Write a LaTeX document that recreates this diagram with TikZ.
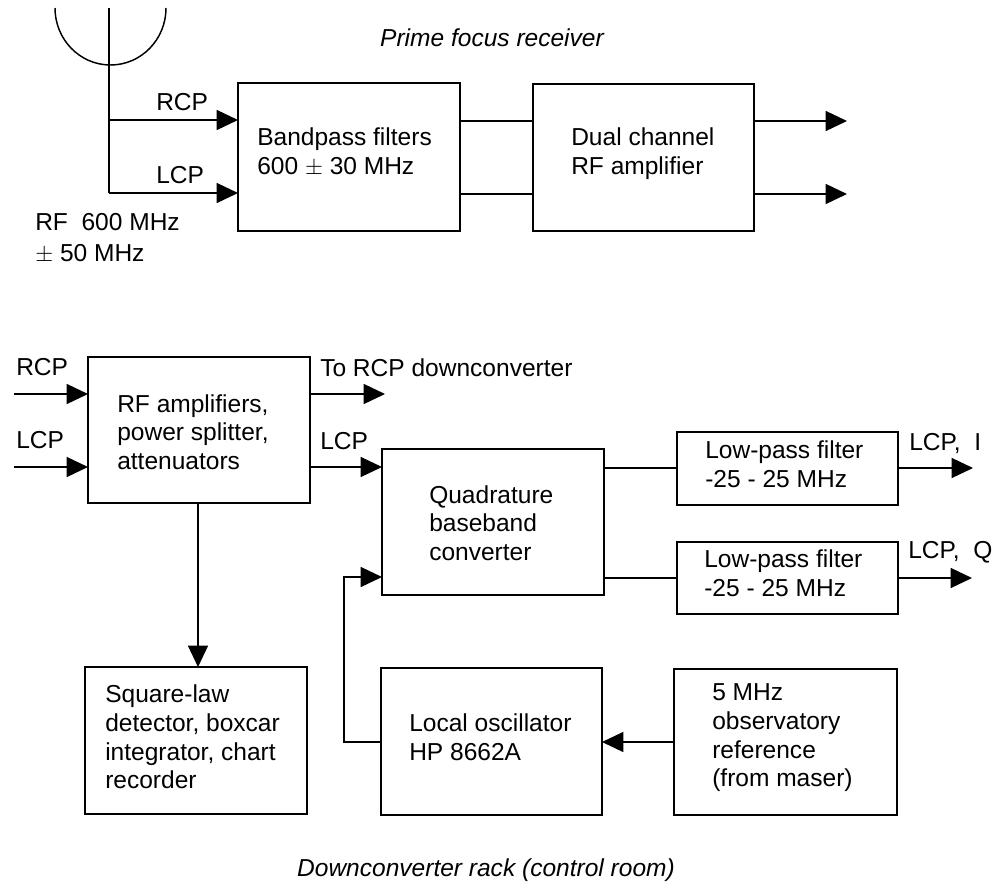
\documentclass[tikz,border=0pt]{standalone}
\usepackage{fontspec}
\setmainfont{Liberation Sans}
\usetikzlibrary{arrows.meta}
\tikzset{
 x=0.75pt,y=-0.75pt,
 blk/.style 2 args={draw,line width=1.1pt,inner sep=0pt,outer sep=0pt,anchor=north west,minimum width=#1*0.75pt,minimum height=#2*0.75pt},
 conn/.style={line width=1.1pt},
 arr/.style={line width=1.1pt,-{Triangle[length=16pt,width=15pt]}},
 txt/.style={font=\fontsize{18.4}{21.5}\selectfont,align=left,inner sep=0pt,anchor=west},
 captxt/.style={font=\itshape\fontsize{18.4}{21}\selectfont,inner sep=0pt}
}
\begin{document}
\begin{tikzpicture}
\useasboundingbox (0,0) rectangle (1000,885);
% boxes
\node[blk={222}{148}] (bp) at (238,83) {};
\node[blk={221}{147}] (rf) at (533,84) {};
\node[blk={222}{146}] (amp) at (88,357) {};
\node[blk={222}{146}] (qb) at (382,449) {};
\node[blk={221}{73}] (lp1) at (677,432) {};
\node[blk={221}{72}] (lp2) at (677,542) {};
\node[blk={222}{147}] (sq) at (85,667) {};
\node[blk={221}{147}] (lo) at (381,668) {};
\node[blk={223}{146}] (ref) at (674,669) {};
% box text
\node[txt] (t1) at (257,152) {Bandpass filters\\600 $\pm$ 30 MHz};
\node[txt] (t2) at (571,153.5) {Dual channel\\RF amplifier};
\node[txt] (t3) at (117,432) {RF amplifiers,\\power splitter,\\attenuators};
\node[txt] (t4) at (429,523) {Quadrature\\baseband\\converter};
\node[txt] (t5) at (705,464) {Low-pass filter\\-25 - 25 MHz};
\node[txt] (t6) at (704,573) {Low-pass filter\\-25 - 25 MHz};
\node[txt] (t7) at (105,737) {Square-law\\detector, boxcar\\integrator, chart\\recorder};
\node[txt] (t8) at (409,737) {Local oscillator\\HP 8662A};
\node[txt] (t9) at (712,738) {5 MHz\\observatory\\reference\\(from maser)};
% free labels
\node[captxt] (c1) at (492,38) {Prime focus receiver};
\node[captxt] (c2) at (486,870) {Downconverter rack (control room)};
\node[txt] (l1) at (156,102) {RCP};
\node[txt] (l2) at (156,175) {LCP};
\node[txt] (l3) at (35,238) {RF\ \ 600 MHz\\[1.6pt]$\pm$ 50 MHz};
\node[txt] (l4) at (16,367) {RCP};
\node[txt] (l5) at (16,440) {LCP};
\node[txt] (l6) at (320,368) {To RCP downconverter};
\node[txt] (l7) at (320,441) {LCP};
\node[txt] (l8) at (909,443) {LCP,\ \ I};
\node[txt] (l9) at (908,552) {LCP,\ \ Q};
% coordinates
\coordinate (feed) at (109,8);
\coordinate (rcpT) at (109,120);
\coordinate (lcpT) at (109,193);
\coordinate (o1) at (847,121);
\coordinate (o2) at (847,194);
\coordinate (i1) at (14,394);
\coordinate (i2) at (14,467);
\coordinate (ao1) at (385,394);
\coordinate (qo1) at (973,468);
\coordinate (qo2) at (972,578);
\coordinate (sqt) at (198,667);
\coordinate (loop) at (344,577);
\coordinate (refy) at (0,742);
% dish
\draw[conn] (55,8) arc[start angle=180,end angle=360,x radius=55.5,y radius=-57];
\draw[conn] (feed) -- (lcpT);
\draw[arr] (rcpT) -- (rcpT -| bp.west);
\draw[arr] (lcpT) -- (lcpT -| bp.west);
\draw[conn] (o1 -| bp.east) -- (o1 -| rf.west);
\draw[conn] (o2 -| bp.east) -- (o2 -| rf.west);
\draw[arr] (o1 -| rf.east) -- (o1);
\draw[arr] (o2 -| rf.east) -- (o2);
\draw[arr] (i1) -- (i1 -| amp.west);
\draw[arr] (i2) -- (i2 -| amp.west);
\draw[arr] (i1 -| amp.east) -- (ao1);
\draw[arr] (i2 -| amp.east) -- (i2 -| qb.west);
\draw[conn] (qo1 -| qb.east) -- (qo1 -| lp1.west);
\draw[conn] (qo2 -| qb.east) -- (qo2 -| lp2.west);
\draw[arr] (qo1 -| lp1.east) -- (qo1);
\draw[arr] (qo2 -| lp2.east) -- (qo2);
\draw[arr] (sqt |- amp.south) -- (sq.north -| sqt);
\draw[arr] (refy -| ref.west) -- (refy -| lo.east);
\draw[arr] (refy -| lo.west) -- (refy -| loop) -- (loop) -- (loop -| qb.west);
\end{tikzpicture}
\end{document}
